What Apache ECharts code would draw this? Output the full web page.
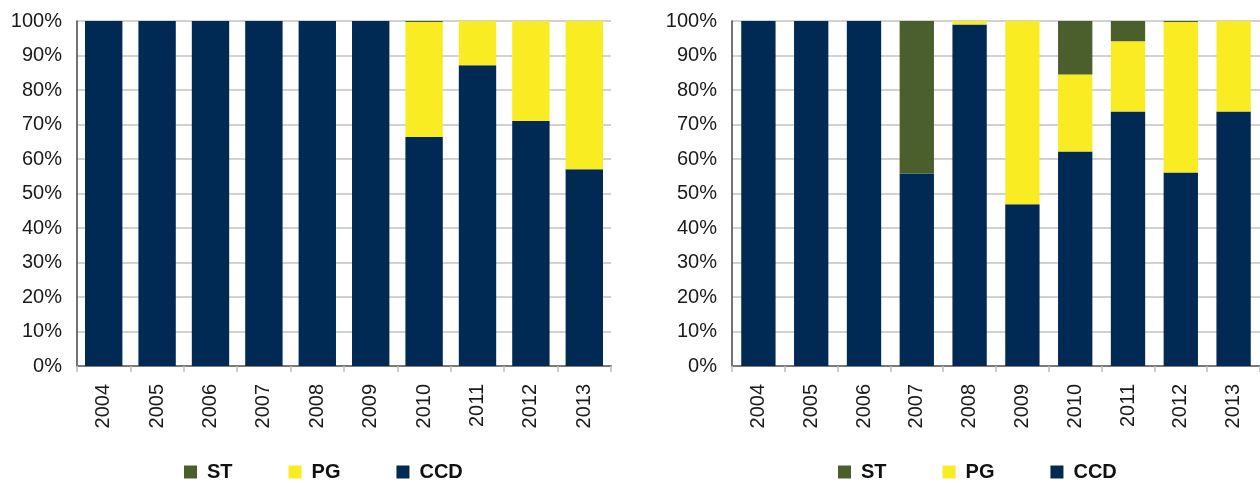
<!DOCTYPE html>
<html>
<head>
<meta charset="utf-8">
<script src="https://cdn.jsdelivr.net/npm/echarts@6/dist/echarts.min.js"></script>
<style>
  html, body { margin: 0; padding: 0; background: #fff; }
  #chart { width: 1260px; height: 483px; }
</style>
</head>
<body>
<div id="chart"></div>
<script>
// categories
var years = ['2004', '2005', '2006', '2007', '2008', '2009', '2010', '2011', '2012', '2013']
var yTicks = [0, 10, 20, 30, 40, 50, 60, 70, 80, 90, 100]

// left chart (share %)
var ccdLeft = [100, 100, 100, 100, 100, 100, 66.4, 87.2, 71, 57]
var pgLeft = [0, 0, 0, 0, 0, 0, 33.3, 12.8, 29, 43]
var stLeft = [0, 0, 0, 0, 0, 0, 0.3, 0, 0, 0]

// right chart (share %)
var ccdRight = [100, 100, 100, 55.8, 99, 46.9, 62.2, 73.8, 56.1, 73.8]
var pgRight = [0, 0, 0, 0, 1, 53.1, 22.3, 20.3, 43.6, 26.2]
var stRight = [0, 0, 0, 44.2, 0, 0, 15.5, 5.9, 0.3, 0]

var colors = { ST: '#4b5f2d', PG: '#f9ec23', CCD: '#002a54' }
var font = 'Liberation Sans, Arial, sans-serif'

var chart = echarts.init(document.getElementById('chart'))

function xAxisFor (gridIndex) {
  return {
    type: 'category',
    gridIndex: gridIndex,
    data: years,
    axisLine: { lineStyle: { color: '#7a7a7a', width: 2 } },
    axisTick: { show: true, length: 6, lineStyle: { color: '#bdbdbd', width: 1.5 } },
    axisLabel: {
      rotate: 90,
      margin: 18,
      color: '#1a1a1a',
      fontSize: 20,
      fontFamily: font
    }
  }
}

function yAxisFor (gridIndex) {
  return {
    type: 'value',
    gridIndex: gridIndex,
    min: yTicks[0],
    max: yTicks[yTicks.length - 1],
    interval: 10,
    axisLine: { show: true, lineStyle: { color: '#444', width: 1.5 } },
    axisTick: { show: false },
    axisLabel: {
      margin: 15,
      color: '#1a1a1a',
      fontSize: 20,
      fontFamily: font,
      formatter: '{value}%'
    },
    splitLine: { lineStyle: { color: '#d2d2d2', width: 2 } }
  }
}

function barSeries (name, data, idx, gap) {
  return {
    name: name,
    type: 'bar',
    stack: 'total' + idx,
    xAxisIndex: idx,
    yAxisIndex: idx,
    barCategoryGap: gap,
    data: data,
    itemStyle: { color: colors[name] }
  }
}

function legendFor (left) {
  return {
    left: left,
    top: 462,
    padding: 0,
    itemWidth: 13,
    itemHeight: 13,
    itemGap: 56,
    icon: 'rect',
    data: ['ST', 'PG', 'CCD'],
    textStyle: { fontSize: 20, fontWeight: 'bold', color: '#111', fontFamily: font, padding: [0, 0, 0, 5] }
  }
}

var option = {
  animation: false,
  grid: [
    { left: 77, top: 21, width: 534, height: 345 },
    { left: 732, top: 21, width: 540, height: 345 }
  ],
  legend: [legendFor(184), legendFor(838)],
  xAxis: [xAxisFor(0), xAxisFor(1)],
  yAxis: [yAxisFor(0), yAxisFor(1)],
  series: [
    barSeries('CCD', ccdLeft, 0, '30%'),
    barSeries('PG', pgLeft, 0, '30%'),
    barSeries('ST', stLeft, 0, '30%'),
    barSeries('CCD', ccdRight, 1, '35%'),
    barSeries('PG', pgRight, 1, '35%'),
    barSeries('ST', stRight, 1, '35%')
  ]
}

chart.setOption(option)
</script>
</body>
</html>
